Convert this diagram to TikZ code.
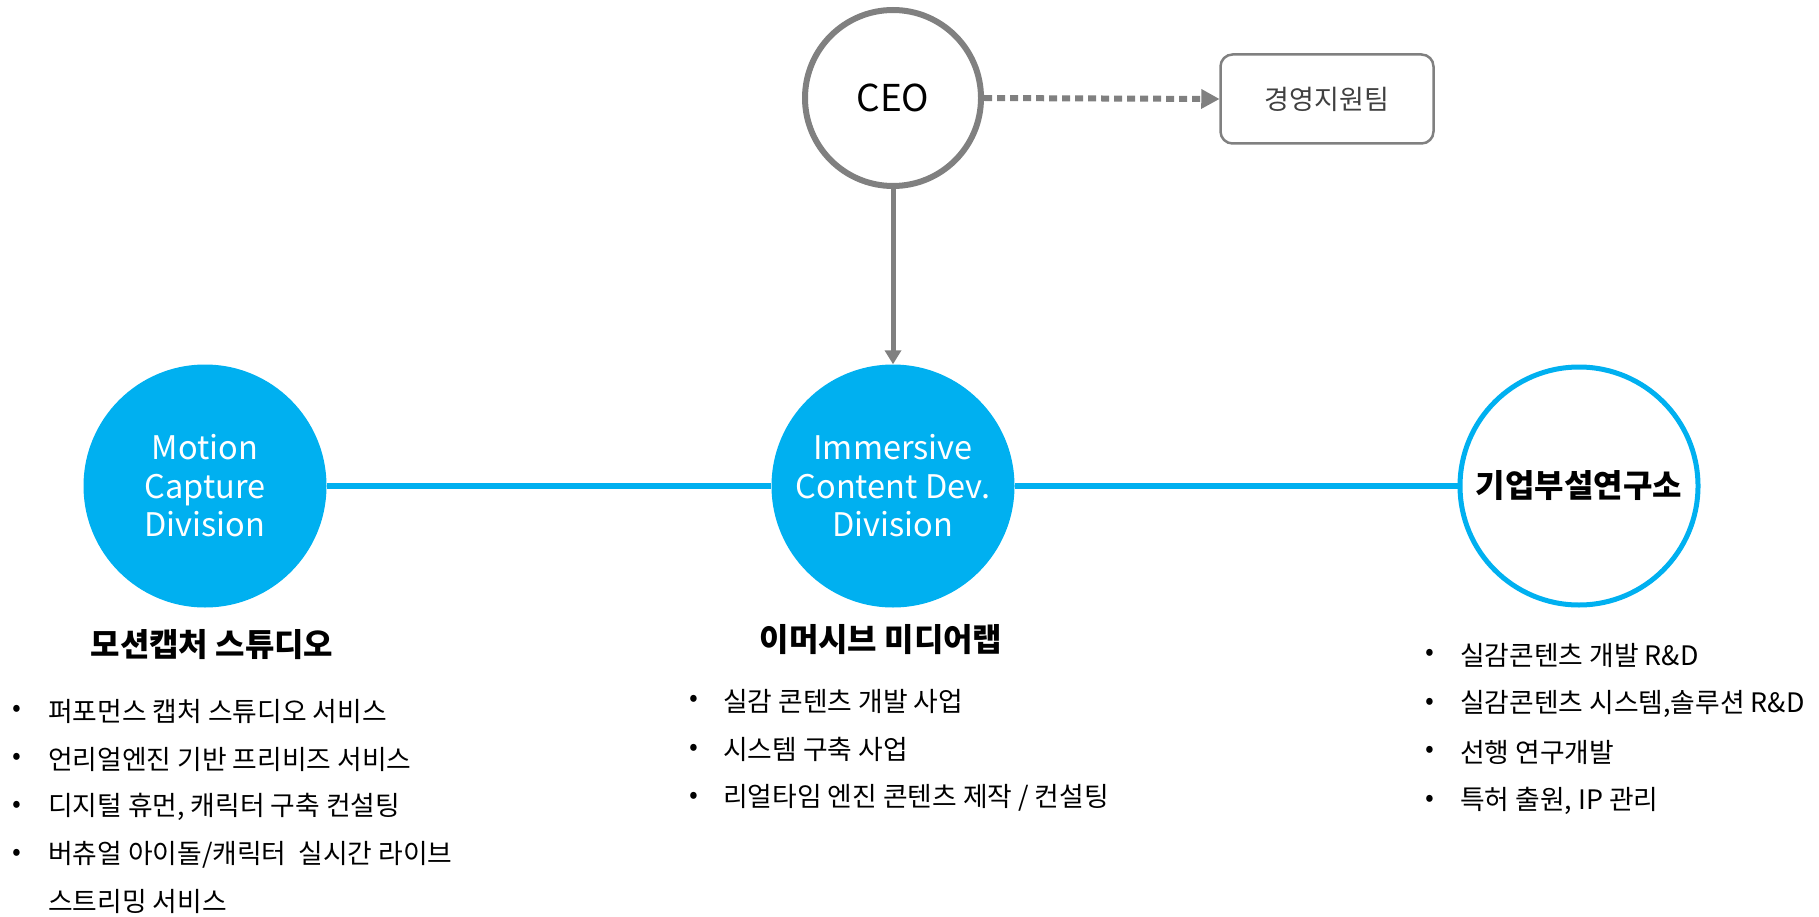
\documentclass[tikz,border=0pt]{standalone}
\usepackage{fontspec}
\setmainfont{Noto Sans CJK KR}
\usetikzlibrary{arrows.meta}
\definecolor{skyblue}{HTML}{00B0F0}
\definecolor{midgray}{HTML}{808080}
\definecolor{txtgray}{HTML}{404040}
\begin{document}
\begin{tikzpicture}[x=1pt,y=-1pt,
  bluecirc/.style={circle,fill=skyblue,minimum size=243pt,inner sep=0pt,text=white,align=center,font=\fontsize{32.5}{38.5}\selectfont},
  labcirc/.style={circle,draw=skyblue,line width=5pt,fill=white,minimum size=238pt,inner sep=0pt,align=center,font=\fontsize{32}{38}\bfseries\selectfont},
  ceocirc/.style={circle,draw=midgray,line width=6pt,fill=white,minimum size=176pt,inner sep=0pt,font=\fontsize{37}{44}\selectfont},
  teambox/.style={draw=midgray,line width=2.5pt,rounded corners=12pt,minimum width=213pt,minimum height=89pt,inner sep=0pt,text=txtgray,font=\fontsize{27}{32}\selectfont},
  heading/.style={font=\fontsize{32}{38}\bfseries\selectfont,inner sep=0pt},
  item/.style={anchor=west,inner sep=0pt,font=\fontsize{26.8}{32}\selectfont},
  dot/.style={anchor=center,inner sep=0pt,font=\fontsize{26}{30}\selectfont},
  link/.style={draw=skyblue,line width=6pt},
]
\useasboundingbox (0,0) rectangle (1819,917);

\node[ceocirc] (ceo) at (893,98) {CEO};
\node[teambox] (team) at (1327,99) {경영지원팀};
\node[bluecirc] (motion) at (205,486) {Motion\\Capture\\Division};
\node[bluecirc] (imm) at (893,486) {Immersive\\Content Dev.\\Division};
\node[labcirc] (lab) at (1579,486) {기업부설연구소};

\draw[midgray,line width=6pt,dash pattern=on 8pt off 5pt,-{Triangle[length=18pt,width=20pt,line width=0pt]}] (ceo.east) -- (team.west);
\draw[midgray,line width=5pt,-{Triangle[length=14pt,width=16pt]}] (ceo.south) -- (imm.north);
\draw[link] (motion.east) -- (imm.west);
\draw[link] (imm.east) -- (lab.west);

\node[heading] (h1) at (212,645) {모션캡처 스튜디오};
\node[heading] (h2) at (881,640) {이머시브 미디어랩};

\foreach \t [count=\i] in {퍼포먼스 캡처 스튜디오 서비스, 언리얼엔진 기반 프리비즈 서비스, {디지털 휴먼, 캐릭터 구축 컨설팅}, 버츄얼 아이돌/캐릭터\ \ 실시간 라이브}{
  \node[dot] (ld\i) at (17,{711+48*(\i-1)}) {•};
  \node[item] (lt\i) at (48,{711+48*(\i-1)}) {\t};
}
\node[item] (lt5) at (48,901) {스트리밍 서비스};

\foreach \t [count=\i] in {실감 콘텐츠 개발 사업, 시스템 구축 사업, 리얼타임 엔진 콘텐츠 제작 / 컨설팅}{
  \node[dot] (md\i) at (694,{701+48.5*(\i-1)}) {•};
  \node[item] (mt\i) at (723,{701+48.5*(\i-1)}) {\t};
}

\foreach \t [count=\i] in {실감콘텐츠 개발 R\&D, {실감콘텐츠 시스템,솔루션 R\&D}, 선행 연구개발, {특허 출원, IP 관리}}{
  \node[dot] (rd\i) at (1430,{655+48.5*(\i-1)}) {•};
  \node[item] (rt\i) at (1460,{655+48.5*(\i-1)}) {\t};
}
\end{tikzpicture}
\end{document}
